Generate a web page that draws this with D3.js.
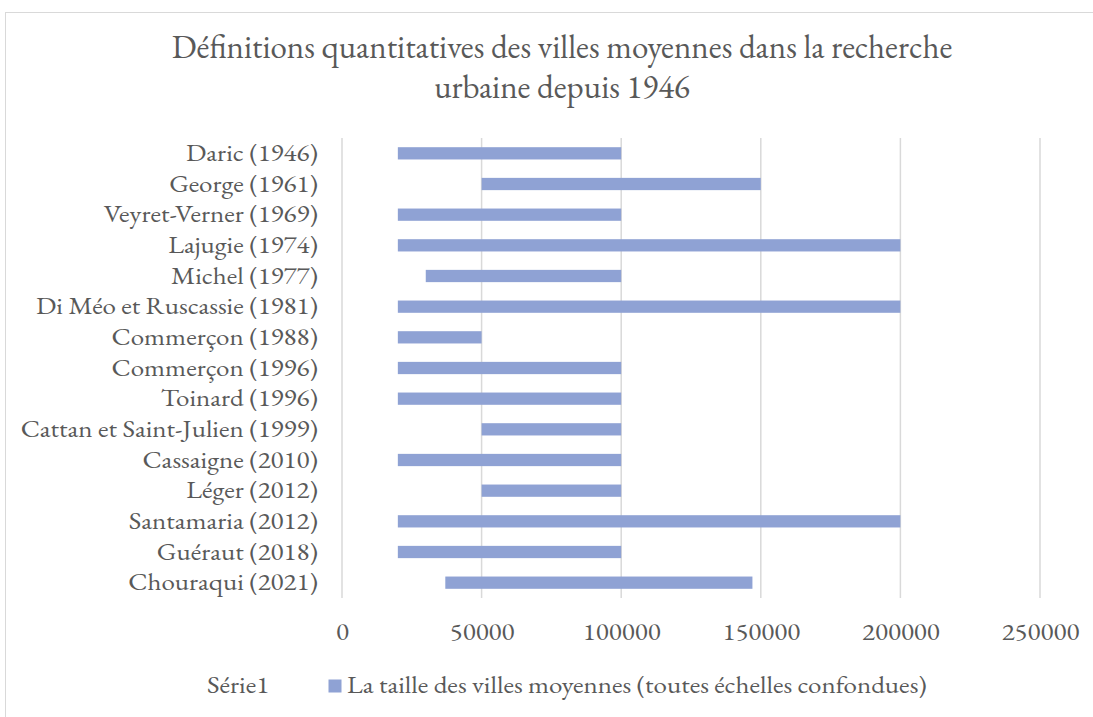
<!DOCTYPE html>
<html>
<head>
<meta charset="utf-8">
<script src="https://cdn.jsdelivr.net/npm/d3@7"></script>
<style>
  body { margin: 0; background: #fff; }
</style>
</head>
<body>
<svg width="1093" height="717"></svg>
<script>
// Data
const authors = ["Daric (1946)", "George (1961)", "Veyret-Verner (1969)", "Lajugie (1974)", "Michel (1977)",
  "Di Méo et Ruscassie (1981)", "Commerçon (1988)", "Commerçon (1996)", "Toinard (1996)",
  "Cattan et Saint-Julien (1999)", "Cassaigne (2010)", "Léger (2012)", "Santamaria (2012)",
  "Guéraut (2018)", "Chouraqui (2021)"];
const minSize = [20000, 50000, 20000, 20000, 30000, 20000, 20000, 20000, 20000, 50000, 20000, 50000, 20000, 20000, 37000];
const maxSize = [100000, 150000, 100000, 200000, 100000, 200000, 50000, 100000, 100000, 100000, 100000, 100000, 200000, 100000, 147000];
const xTicks = [0, 50000, 100000, 150000, 200000, 250000];

const titleLines = ["Définitions quantitatives des villes moyennes dans la recherche", "urbaine depuis 1946"];
const seriesName = "La taille des villes moyennes (toutes échelles confondues)";

const FONT = "'EB Garamond', 'Liberation Serif', serif";
const TEXT_COLOR = "#595959";
const LABEL_SIZE = 23.5;
const WIDEN = 27 / 23.5; // reference Garamond is wider than EB Garamond

// stretch text horizontally so it keeps the reference width
function widen(sel) {
  sel.style("font-family", FONT).style("font-size", LABEL_SIZE + "px").attr("fill", TEXT_COLOR)
    .each(function() {
      const len = this.getComputedTextLength();
      d3.select(this).attr("textLength", len * WIDEN).attr("lengthAdjust", "spacingAndGlyphs");
    });
}

const svg = d3.select("svg");
const margin = {top: 138, right: 53, bottom: 119, left: 342};
const width = 1093 - margin.left - margin.right;
const height = 717 - margin.top - margin.bottom;

// outer chart border
svg.append("rect")
  .attr("x", 5.5).attr("y", 12.5)
  .attr("width", 1100).attr("height", 720)
  .attr("fill", "none").attr("stroke", "#d9d9d9");

// title
svg.append("text")
  .attr("x", 562).attr("y", 58)
  .attr("text-anchor", "middle")
  .style("font-family", FONT).style("font-size", "33px").attr("fill", TEXT_COLOR)
  .selectAll("tspan").data(titleLines).join("tspan")
  .attr("x", 562).attr("dy", (d, i) => i === 0 ? 0 : 40)
  .text(d => d);

const g = svg.append("g").attr("transform", `translate(${margin.left},${margin.top})`);

const x = d3.scaleLinear().domain([0, 250000]).range([0, width]);
const y = d3.scaleBand().domain(authors).range([0, height]).paddingInner(0.6).paddingOuter(0.3);

// vertical gridlines
g.selectAll(".grid").data(xTicks).join("line")
  .attr("x1", d => x(d)).attr("x2", d => x(d))
  .attr("y1", 0).attr("y2", height)
  .attr("stroke", "#d9d9d9").attr("stroke-width", 1.5);

// x tick labels
const xAxis = g.append("g")
  .attr("transform", `translate(0,${height})`)
  .call(d3.axisBottom(x).tickValues(xTicks).tickFormat(d3.format("d")).tickSize(0).tickPadding(25));
xAxis.select(".domain").remove();
xAxis.selectAll("text").call(widen);

// y category labels
const yAxis = g.append("g")
  .call(d3.axisLeft(y).tickSize(0).tickPadding(24));
yAxis.select(".domain").remove();
yAxis.selectAll("text").call(widen);

// floating bars
g.selectAll(".bar").data(authors).join("rect")
  .attr("class", "bar")
  .attr("x", (d, i) => x(minSize[i]))
  .attr("width", (d, i) => x(maxSize[i]) - x(minSize[i]))
  .attr("y", d => y(d))
  .attr("height", y.bandwidth())
  .attr("fill", "#8fa2d4");

// legend
const legend = svg.append("g");
legend.append("text").attr("x", 207).attr("y", 693).text("Série1").call(widen);
legend.append("rect").attr("x", 328.5).attr("y", 679.5).attr("width", 13).attr("height", 13).attr("fill", "#8fa2d4");
legend.append("text").attr("x", 347).attr("y", 693).text(seriesName).call(widen);
</script>
</body>
</html>
